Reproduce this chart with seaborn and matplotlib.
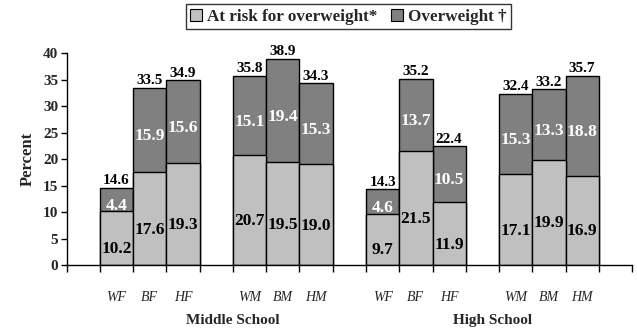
import matplotlib
matplotlib.use("Agg")
import matplotlib.pyplot as plt
import matplotlib.transforms as mtransforms
from matplotlib.patches import Patch
import seaborn as sns
import pandas as pd

# Groups shown on the x axis
schools = ["Middle School", "High School"]
subgroups = ["WF", "BF", "HF", "WM", "BM", "HM"]

# Percent at risk for overweight (lower segment)
at_risk_ms = [10.2, 17.6, 19.3, 20.7, 19.5, 19.0]
at_risk_hs = [9.7, 21.5, 11.9, 17.1, 19.9, 16.9]
# Percent overweight (upper segment)
overweight_ms = [4.4, 15.9, 15.6, 15.1, 19.4, 15.3]
overweight_hs = [4.6, 13.7, 10.5, 15.3, 13.3, 18.8]

yticks = [0, 5, 10, 15, 20, 25, 30, 35, 40]

LIGHT = "#C0C0C0"
DARK = "#808080"

sns.set_theme(style="white")
plt.rcParams["font.family"] = ["Liberation Serif", "DejaVu Serif"]
plt.rcParams["font.weight"] = "bold"

# Category slots: an empty slot before, between and after each trio of bars
order = []
rows = []
for s, risk, over in [("MS", at_risk_ms, overweight_ms), ("HS", at_risk_hs, overweight_hs)]:
    for half in (0, 1):
        order.append(f"{s}-gap{half}")
        for k in range(3):
            i = half * 3 + k
            key = f"{s}-{subgroups[i]}"
            order.append(key)
            rows.append({"slot": key, "label": subgroups[i],
                         "at_risk": risk[i], "overweight": over[i],
                         "total": round(risk[i] + over[i], 1)})
order.append("end-gap")
df = pd.DataFrame(rows)

fig = plt.figure(figsize=(6.37, 3.31), dpi=100)
ax = fig.add_axes([0.1047, 0.1994, 0.8875, 0.6396])

# Full stack height in dark grey, then the lower segment over it in light grey
sns.barplot(data=df, x="slot", y="total", order=order, color=DARK, saturation=1,
            width=1.0, edgecolor="black", linewidth=1.0, ax=ax)
sns.barplot(data=df, x="slot", y="at_risk", order=order, color=LIGHT, saturation=1,
            width=1.0, edgecolor="black", linewidth=1.0, ax=ax)

ax.set_xlim(-0.5, len(order) - 0.5)
ax.set_ylim(0, 40)
ax.set_yticks(yticks)
ax.set_yticklabels([str(v) for v in yticks], fontsize=11, fontweight="bold")
ax.tick_params(axis="y", direction="out", length=4, width=1, color="black", pad=2, left=True)

pos = {k: i for i, k in enumerate(order)}
xs = [pos[k] for k in df["slot"]]
ax.set_xticks(xs)
ax.set_xticklabels(df["label"], fontsize=10, fontstyle="italic", fontweight="normal")
ax.set_xticks([i - 0.5 for i in range(len(order) + 1)], minor=True)
ax.tick_params(axis="x", which="major", length=0, pad=19)
ax.tick_params(axis="x", which="minor", direction="out", length=5, width=1,
               color="black", bottom=True)

ax.set_xlabel("")
ax.set_ylabel("Percent", fontsize=12, fontweight="bold", labelpad=5)

for side in ["top", "right"]:
    ax.spines[side].set_visible(False)
for side in ["left", "bottom"]:
    ax.spines[side].set_color("black")
    ax.spines[side].set_linewidth(1.0)

# Value labels
for x, (_, r) in zip(xs, df.iterrows()):
    ax.annotate(f"{r['at_risk']:.1f}", (x, r["at_risk"] / 2), xytext=(0, -8),
                textcoords="offset points", ha="center", va="center",
                fontsize=12.5, fontweight="bold", color="black")
    ax.annotate(f"{r['overweight']:.1f}", (x, r["at_risk"] + r["overweight"] / 2),
                xytext=(0, -4.5), textcoords="offset points", ha="center", va="center",
                fontsize=12.5, fontweight="bold", color="white")
    ax.annotate(f"{r['total']:.1f}", (x, r["total"]), xytext=(0, 0.5),
                textcoords="offset points", ha="center", va="bottom",
                fontsize=11, fontweight="bold", color="black")

# School names under each half of the chart
trans = mtransforms.blended_transform_factory(ax.transData, ax.transAxes)
ax.text(4.5, -0.26, schools[0], transform=trans, ha="center", va="center",
        fontsize=11, fontweight="bold")
ax.text(12.3, -0.26, schools[1], transform=trans, ha="center", va="center",
        fontsize=11, fontweight="bold")

handles = [Patch(facecolor=LIGHT, edgecolor="black", linewidth=0.8),
           Patch(facecolor=DARK, edgecolor="black", linewidth=0.8)]
leg = fig.legend(handles, ["At risk for overweight*", "Overweight \u2020"],
                 loc="center", bbox_to_anchor=(0.547, 0.95), ncol=2,
                 frameon=True, fancybox=False, handlelength=0.7, handleheight=0.7,
                 handletextpad=0.3, columnspacing=0.8, borderpad=0.25,
                 prop={"weight": "bold", "size": 12.3})
leg.get_frame().set_edgecolor("black")
leg.get_frame().set_linewidth(1.0)

fig.savefig("out.png", dpi=100)
